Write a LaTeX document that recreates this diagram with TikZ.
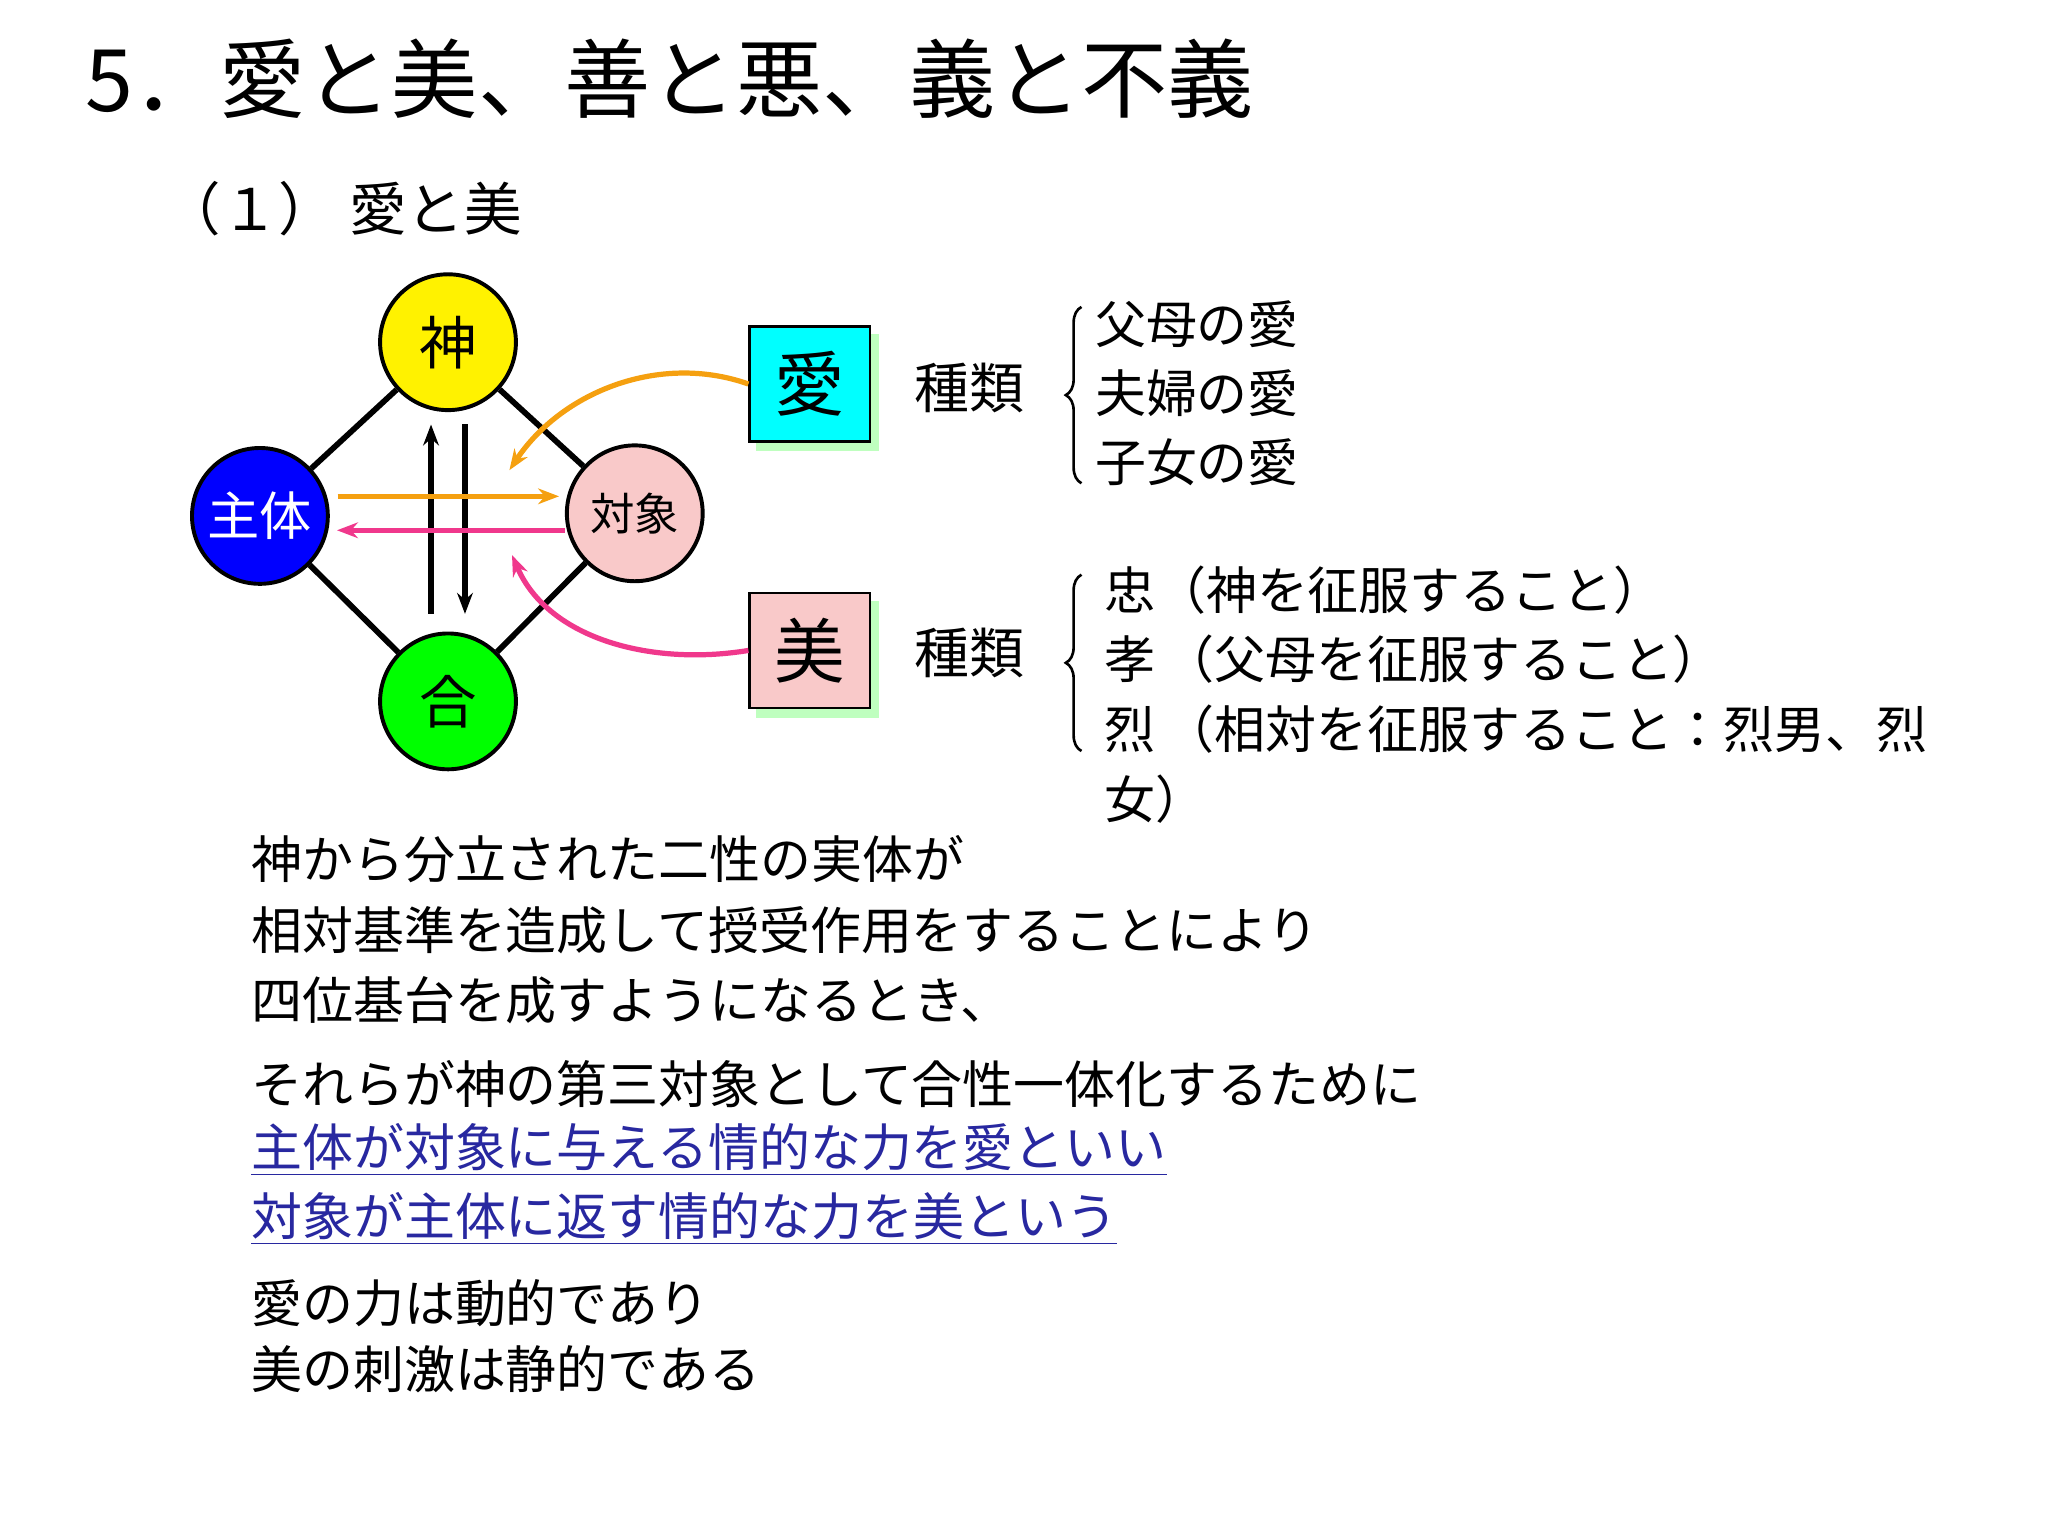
\documentclass[tikz,border=0pt]{standalone}
\usepackage{fontspec}
\setmainfont{Noto Sans CJK JP}
\usetikzlibrary{arrows.meta,decorations.pathreplacing}
\definecolor{bluet}{HTML}{2828A0}
\definecolor{pinkc}{HTML}{F9C9C9}
\definecolor{cyanc}{HTML}{00FFFF}
\definecolor{orng}{HTML}{F5A010}
\definecolor{mag}{HTML}{F0388C}
\begin{document}
\begin{tikzpicture}[x=0.5pt,y=-0.5pt,
  circ/.style={circle,draw=black,line width=1.5pt,minimum size=52pt,inner sep=0pt},
  sbox/.style={draw=black,line width=1pt,minimum width=46pt,minimum height=44pt,inner sep=0pt,font=\fontsize{27}{30}\selectfont},
  txt/.style={anchor=west,inner sep=0pt,font=\fontsize{19.5}{22}\selectfont},
  brc/.style={decorate,decoration={brace,amplitude=6pt},line width=1pt}]
\useasboundingbox (0,0) rectangle (1568,1176);
\fill[white] (0,0) rectangle (1568,1176);
\node[anchor=west,inner sep=0pt,font=\fontsize{33}{36}\selectfont] (title) at (65,60) {5．愛と美、善と悪、義と不義};
\node[anchor=west,inner sep=0pt,font=\fontsize{22}{25}\selectfont] (sub) at (125,160) {（１）\ 愛と美};
% circles
\node[circ,fill=yellow,font=\fontsize{22}{24}\selectfont] (kami) at (343,262) {神};
\node[circ,fill=blue,text=white,font=\fontsize{20}{24}\selectfont] (shu) at (199,395) {主体};
\node[circ,fill=pinkc,font=\fontsize{17}{20}\selectfont] (tai) at (486,393) {対象};
\node[circ,fill=green,font=\fontsize{22}{24}\selectfont] (go) at (343,537) {合};
\draw[line width=2.2pt] (kami)--(shu) (shu)--(go) (go)--(tai) (tai)--(kami);
\coordinate (u1) at (330,470); \coordinate (u2) at (330,325);
\coordinate (d1) at (356,325); \coordinate (d2) at (356,470);
\draw[line width=2pt,-{Stealth[length=8pt]}] (u1)--(u2);
\draw[line width=2pt,-{Stealth[length=8pt]}] (d1)--(d2);
\draw[orng,line width=2pt,-{Stealth[length=8pt]}] (shu.east|-0,380) ++(6,0) -- (428,380);
\draw[mag,line width=2pt,-{Stealth[length=8pt]}] (tai.west|-0,406) -- (258,406);
% boxes
\fill[green!25!white] (579,256) rectangle (673,345);
\node[sbox,fill=cyanc] (ai) at (620,294) {愛};
\fill[green!25!white] (579,460) rectangle (673,550);
\node[sbox,fill=pinkc] (bi) at (620,498) {美};
\coordinate (ca) at (390,360); \coordinate (cb) at (392,425);
\draw[orng,line width=2pt,-{Stealth[length=8pt]}] (ai.west) .. controls (505,270) and (430,300) .. (ca);
\draw[mag,line width=2pt,-{Stealth[length=8pt]}] (bi.west) .. controls (500,510) and (420,490) .. (cb);
\node[txt,font=\fontsize{21}{24}\selectfont] (k1) at (700,297) {種類};
\node[txt,font=\fontsize{21}{24}\selectfont] (k2) at (700,500) {種類};
\draw[brc] (828,370) -- (828,235);
\draw[brc] (828,575) -- (828,440);
\node[txt] (a1) at (838,248) {父母の愛};
\node[txt] (a2) at (838,301) {夫婦の愛};
\node[txt] (a3) at (838,354) {子女の愛};
\node[txt] (b1) at (845,452) {忠（神を征服すること）};
\node[txt] (b2) at (845,505) {孝\,（父母を征服すること）};
\node[txt] (b3) at (845,558) {烈\,（相対を征服すること：烈男、烈};
\node[txt] (b4) at (845,612) {女）};
% body
\node[txt] (t1) at (192,658) {神から分立された二性の実体が};
\node[txt] (t2) at (192,712) {相対基準を造成して授受作用をすることにより};
\node[txt] (t3) at (192,766) {四位基台を成すようになるとき、};
\node[txt] (t4) at (192,830) {それらが神の第三対象として合性一体化するために};
\node[txt,text=bluet] (t5) at (192,880) {\underline{主体が対象に与える情的な力を愛といい}};
\node[txt,text=bluet] (t6) at (192,933) {\underline{対象が主体に返す情的な力を美という}};
\node[txt] (t7) at (192,998) {愛の力は動的であり};
\node[txt] (t8) at (192,1048) {美の刺激は静的である};
\end{tikzpicture}
\end{document}
